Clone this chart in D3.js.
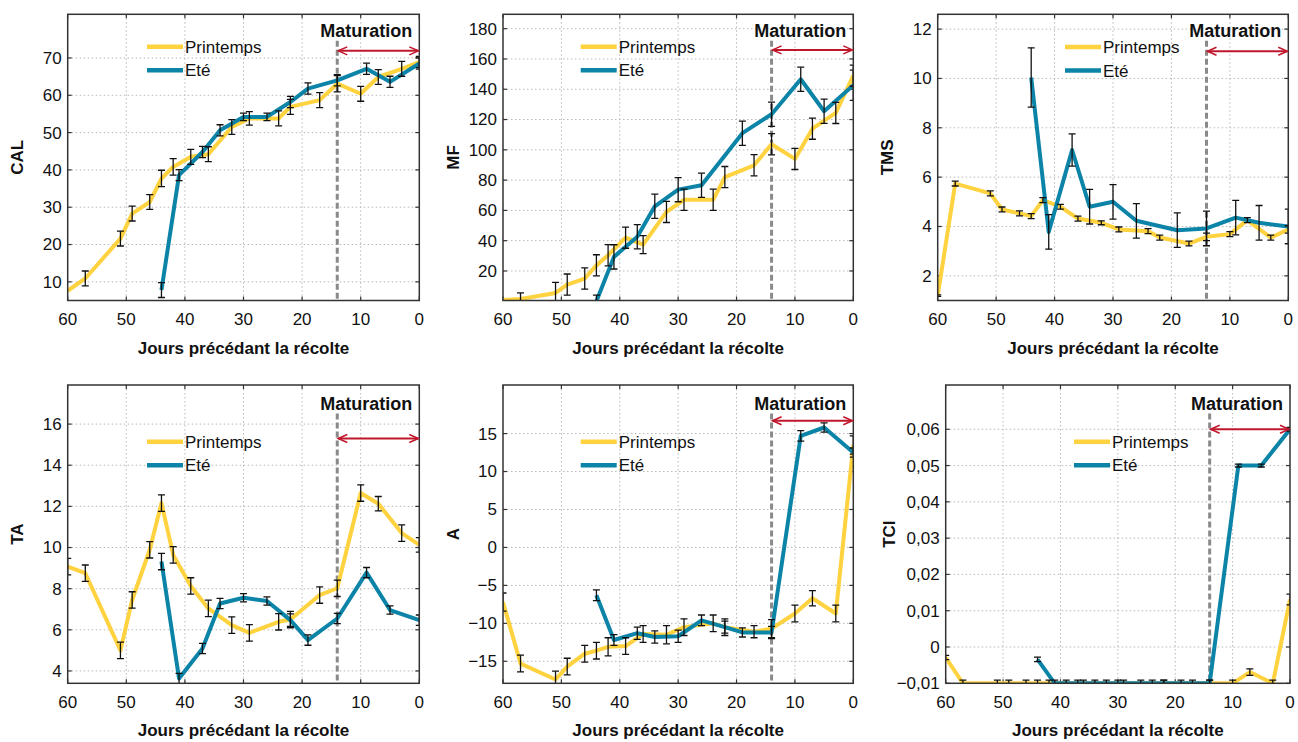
<!DOCTYPE html>
<html>
<head>
<meta charset="utf-8">
<script src="https://cdn.jsdelivr.net/npm/d3@7"></script>
<style>
  html, body { margin: 0; padding: 0; background: #fff; }
  svg { display: block; font-family: "Liberation Sans", Arial, sans-serif; }
</style>
</head>
<body>
<div id="chart"></div>
<script>
// days before harvest
const daysPrintemps = [60, 57, 51, 49, 46, 44, 42, 39, 36, 32, 29, 24, 22, 17, 14, 10, 7, 3, 0];
const daysEte = [44, 41, 37, 34, 30, 26, 22, 19, 14, 9, 5, 0];
const seriesNames = ['Printemps', 'Eté'];
const xTicks = [60, 50, 40, 30, 20, 10, 0];

// CAL
const calPrintemps = [7.6, 10.9, 21.6, 28.3, 31.4, 37.7, 40.8, 43.5, 44.2, 51.5, 53.8, 53.8, 56.9, 58.7, 63.1, 60.4, 64.9, 67.1, 68.9];
const calPrintempsErr = [0, 2, 2, 2, 2, 2.2, 2.2, 2, 2, 2, 1.8, 2, 2, 2, 2.2, 2, 2, 2, 1.5];
const calEte = [7.8, 38.6, 44.8, 50.6, 54.2, 54.2, 58.2, 61.8, 64.0, 67.1, 63.6, 68.5];
const calEteErr = [2, 1.5, 1.5, 1.5, 1, 1, 1.5, 1.5, 1.5, 1.5, 1.5, 1.5];
const calTicks = [10, 20, 30, 40, 50, 60, 70];

// MF
const mfPrintemps = [0.8, 1.5, 5.5, 11, 15, 23.7, 30.4, 42, 37.4, 59, 67, 67, 82, 89.8, 103.7, 94, 114, 124.4, 149];
const mfPrintempsErr = [0, 4, 7, 7, 7, 7, 7, 7, 6, 7, 7, 7, 7, 7, 7, 7, 7, 7, 7];
const mfEte = [0, 29.3, 42.6, 62.7, 73.7, 76.6, null, 111, 123.5, 146.6, 125.5, 142.6];
const mfEteErr = [4, 8, 8, 8, 8, 8, 0, 8, 8, 8, 8, 10];
const mfTicks = [20, 40, 60, 80, 100, 120, 140, 160, 180];

// TMS
const tmsPrintemps = [1.2, 5.74, 5.34, 4.69, 4.53, 4.42, 5.07, 4.8, 4.32, 4.15, 3.88, 3.81, 3.55, 3.31, 3.58, 3.69, 4.26, 3.55, 3.88];
const tmsPrintempsErr = [0.03, 0.1, 0.1, 0.1, 0.1, 0.1, 0.1, 0.1, 0.1, 0.08, 0.1, 0.1, 0.1, 0.1, 0.15, 0.1, 0.1, 0.1, 0.15];
const tmsEte = [10.04, 3.78, 7.1, 4.8, 5.0, 4.23, null, 3.85, 3.92, 4.36, 4.15, 4.0];
const tmsEteErr = [1.2, 0.7, 0.65, 0.7, 0.7, 0.7, 0, 0.7, 0.7, 0.7, 0.7, 0.7];
const tmsTicks = [2, 4, 6, 8, 10, 12];

// TA
const taPrintemps = [9.07, 8.75, 5.0, 7.45, 9.89, 12.16, 9.64, 8.13, 7.04, 6.23, 5.85, 6.39, 6.5, 7.69, 8.02, 12.65, 12.13, 10.7, 10.13];
const taPrintempsErr = [0.4, 0.4, 0.4, 0.4, 0.4, 0.4, 0.4, 0.4, 0.4, 0.4, 0.4, 0.4, 0.4, 0.4, 0.4, 0.4, 0.35, 0.4, 0.35];
const taEte = [9.32, 3.63, 5.09, 7.28, 7.56, 7.4, 6.47, 5.5, 6.55, 8.78, 6.96, 6.47];
const taEteErr = [0.4, 0.25, 0.25, 0.25, 0.2, 0.2, 0.3, 0.25, 0.25, 0.25, 0.2, 0.25];
const taTicks = [4, 6, 8, 10, 12, 14, 16];

// A
const aPrintemps = [-7.2, -15.3, -17.4, -15.7, -14.0, -13.6, -13.1, -13.0, -11.4, -11.5, -10.5, -10.0, -10.5, -11.1, -10.7, -8.7, -6.7, -8.7, 13.5];
const aPrintempsErr = [1.2, 1.1, 1.1, 1.1, 1.1, 1.1, 1.2, 1.1, 1.1, 1.2, 1.1, 1.1, 1.1, 0.8, 1.2, 1.1, 1.0, 1.1, 1.2];
const aEte = [-6.3, -12.2, -11.3, -11.8, -11.7, -9.6, -10.5, -11.2, -11.2, 14.7, 15.8, 12.5];
const aEteErr = [0.7, 0.7, 0.8, 0.8, 0.8, 0.7, 0.8, 0.6, 0.8, 0.7, 0.6, 0.6];
const aTicks = [-15, -10, -5, 0, 5, 10, 15];

// TCI
const tciPrintemps = [-0.0029, -0.01, -0.01, -0.01, -0.01, -0.01, -0.01, -0.01, -0.01, -0.01, -0.01, -0.01, -0.01, -0.01, -0.01, -0.01, -0.0069, -0.01, 0.0131];
const tciPrintempsErr = [0.0006, 0.0009, 0.0009, 0.0009, 0.0009, 0.0009, 0.0009, 0.0009, 0.0009, 0.0009, 0.0009, 0.0009, 0.0009, 0.0009, 0.0009, 0.0009, 0.0009, 0.0009, 0.0015];
const tciEte = [-0.0034, -0.01, -0.01, -0.01, -0.01, -0.01, -0.01, -0.01, -0.01, 0.05, 0.05, 0.06];
const tciEteErr = [0.0006, 0.0009, 0.0009, 0.0009, 0.0009, 0.0009, 0.0009, 0.0009, 0.0009, 0.0004, 0.0004, 0.0005];
const tciTicks = [-0.01, 0, 0.01, 0.02, 0.03, 0.04, 0.05, 0.06];

const colors = { 'Printemps': '#ffd23f', 'Eté': '#0b84a8' };
const frFmt = d3.formatLocale({ decimal: ',', thousands: ' ', grouping: [3], currency: ['', '€'], minus: '\u2212' });

const panels = [
  { label: 'CAL', p: calPrintemps, pe: calPrintempsErr, e: calEte, ee: calEteErr, ticks: calTicks,
    box: [67.7, 419.3, 14.3, 300.5], domain: [5, 81.7], labelX: 17.5, legend: [147, 46.7], arrowY: 71.9 },
  { label: 'MF', p: mfPrintemps, pe: mfPrintempsErr, e: mfEte, ee: mfEteErr, ticks: mfTicks,
    box: [503, 853.3, 14.3, 300.5], domain: [0.5, 189.5], labelX: 453, legend: [580.7, 46.7], arrowY: 166 },
  { label: 'TMS', p: tmsPrintemps, pe: tmsPrintempsErr, e: tmsEte, ee: tmsEteErr, ticks: tmsTicks,
    box: [937.7, 1288.3, 14.3, 300.5], domain: [1.0, 12.6], labelX: 887.5, legend: [1065, 47], arrowY: 11.1 },
  { label: 'TA', p: taPrintemps, pe: taPrintempsErr, e: taEte, ee: taEteErr, ticks: taTicks,
    box: [67.7, 419.3, 385, 683.3], domain: [3.4, 17.9], labelX: 17.5, legend: [147, 441.7], arrowY: 15.3 },
  { label: 'A', p: aPrintemps, pe: aPrintempsErr, e: aEte, ee: aEteErr, ticks: aTicks,
    box: [503, 853.3, 385, 683.3], domain: [-17.9, 21.4], labelX: 453, legend: [580.7, 441.7], arrowY: 16.7 },
  { label: 'TCI', p: tciPrintemps, pe: tciPrintempsErr, e: tciEte, ee: tciEteErr, ticks: tciTicks,
    box: [945.7, 1290, 385, 683.3], domain: [-0.01, 0.0722], labelX: 889, legend: [1074, 441.7], arrowY: 0.06,
    fmt: v => v === 0 ? '0' : frFmt.format('.2f')(v) }
];

const svg = d3.select('#chart').append('svg')
  .attr('width', 1298)
  .attr('height', 742);

const defs = svg.append('defs');

panels.forEach((pn, i) => {
  const [x0, x1, y0, y1] = pn.box;
  const x = d3.scaleLinear().domain([60, 0]).range([x0, x1]);
  const y = d3.scaleLinear().domain(pn.domain).range([y1, y0]);
  const fmt = pn.fmt || (v => frFmt.format('d')(v));
  const g = svg.append('g');

  defs.append('clipPath').attr('id', 'clip' + i)
    .append('rect').attr('x', x0).attr('y', y0).attr('width', x1 - x0).attr('height', y1 - y0);

  // grid (dotted)
  const grid = g.append('g').attr('stroke', '#b8b8b8').attr('stroke-width', 1).attr('stroke-dasharray', '1.5,2.5');
  grid.selectAll('line.v').data(xTicks.slice(1, -1)).join('line').attr('class', 'v')
    .attr('x1', d => x(d)).attr('x2', d => x(d)).attr('y1', y0).attr('y2', y1);
  grid.selectAll('line.h').data(pn.ticks).join('line').attr('class', 'h')
    .attr('x1', x0).attr('x2', x1).attr('y1', d => y(d)).attr('y2', d => y(d));

  // inward ticks
  const tk = g.append('g').attr('stroke', '#333').attr('stroke-width', 1.2);
  pn.ticks.forEach(t => {
    tk.append('line').attr('x1', x0).attr('x2', x0 + 4).attr('y1', y(t)).attr('y2', y(t));
    tk.append('line').attr('x1', x1).attr('x2', x1 - 4).attr('y1', y(t)).attr('y2', y(t));
  });
  xTicks.forEach(t => {
    tk.append('line').attr('x1', x(t)).attr('x2', x(t)).attr('y1', y1).attr('y2', y1 - 4);
    tk.append('line').attr('x1', x(t)).attr('x2', x(t)).attr('y1', y0).attr('y2', y0 + 4);
  });

  // maturation marker
  const matY = y0 + (y0 < 100 ? 22.4 : 24.5);
  g.append('line')
    .attr('x1', x(14)).attr('x2', x(14)).attr('y1', matY + 4).attr('y2', y1)
    .attr('stroke', '#8a8a8a').attr('stroke-width', 3).attr('stroke-dasharray', '6,3');

  // series
  const plot = g.append('g').attr('clip-path', `url(#clip${i})`);
  const line = d3.line().x(d => x(d.day)).y(d => y(d.v));
  const series = [
    { name: 'Printemps', data: daysPrintemps.map((d, k) => ({ day: d, v: pn.p[k], err: pn.pe[k] })) },
    { name: 'Eté', data: daysEte.map((d, k) => ({ day: d, v: pn.e[k], err: pn.ee[k] })) }
  ].map(s => ({ name: s.name, data: s.data.filter(d => d.v !== null) }));

  series.forEach(s => {
    plot.append('path').datum(s.data)
      .attr('d', line)
      .attr('fill', 'none')
      .attr('stroke', colors[s.name])
      .attr('stroke-width', 4)
      .attr('stroke-linejoin', 'round');
  });
  series.forEach(s => {
    const eb = plot.append('g').attr('stroke', '#111').attr('stroke-width', 1.3);
    s.data.filter(d => d.err > 0).forEach(d => {
      const cx = x(d.day), ya = y(d.v - d.err), yb = y(d.v + d.err);
      eb.append('line').attr('x1', cx).attr('x2', cx).attr('y1', ya).attr('y2', yb);
      eb.append('line').attr('x1', cx - 3.5).attr('x2', cx + 3.5).attr('y1', ya).attr('y2', ya);
      eb.append('line').attr('x1', cx - 3.5).attr('x2', cx + 3.5).attr('y1', yb).attr('y2', yb);
    });
  });

  // frame
  g.append('rect').attr('x', x0).attr('y', y0).attr('width', x1 - x0).attr('height', y1 - y0)
    .attr('fill', 'none').attr('stroke', '#333').attr('stroke-width', 1.5);

  // tick labels
  g.append('g').selectAll('text').data(pn.ticks).join('text')
    .attr('x', x0 - 6).attr('y', d => y(d)).attr('dy', '0.35em')
    .attr('text-anchor', 'end').attr('font-size', 17).attr('fill', '#111')
    .text(fmt);
  g.append('g').selectAll('text').data(xTicks).join('text')
    .attr('x', d => x(d)).attr('y', y1 + 24.5)
    .attr('text-anchor', 'middle').attr('font-size', 17).attr('fill', '#111')
    .text(d => d);

  // axis titles
  g.append('text').attr('x', (x0 + x1) / 2).attr('y', y1 + 53)
    .attr('text-anchor', 'middle').attr('font-size', 17).attr('font-weight', 'bold').attr('fill', '#111')
    .text('Jours précédant la récolte');
  g.append('text')
    .attr('transform', `translate(${pn.labelX},${(y0 + y1) / 2}) rotate(-90)`)
    .attr('dy', '0.35em')
    .attr('text-anchor', 'middle').attr('font-size', 17).attr('font-weight', 'bold').attr('fill', '#111')
    .text(pn.label);

  // Maturation label + arrow
  g.append('text').attr('x', x1 - 7).attr('y', matY)
    .attr('text-anchor', 'end').attr('font-size', 18).attr('font-weight', 'bold').attr('fill', '#111')
    .text('Maturation');
  const ay = y(pn.arrowY), ax0 = x(14) + 1, ax1 = x(0) - 1;
  const red = '#c0172d';
  g.append('line').attr('x1', ax0).attr('x2', ax1).attr('y1', ay).attr('y2', ay)
    .attr('stroke', red).attr('stroke-width', 2);
  g.append('path')
    .attr('d', `M${ax0 + 9},${ay - 4}L${ax0},${ay}L${ax0 + 9},${ay + 4}M${ax1 - 9},${ay - 4}L${ax1},${ay}L${ax1 - 9},${ay + 4}`)
    .attr('fill', 'none').attr('stroke', red).attr('stroke-width', 1.6);

  // legend
  const [lx, ly] = pn.legend;
  seriesNames.forEach((name, k) => {
    const yy = ly + k * 23.5;
    g.append('line').attr('x1', lx).attr('x2', lx + 36).attr('y1', yy).attr('y2', yy)
      .attr('stroke', colors[name]).attr('stroke-width', 4.5);
    g.append('text').attr('x', lx + 38).attr('y', yy + 6)
      .attr('font-size', 17).attr('fill', '#111')
      .text(name);
  });
});
</script>
</body>
</html>
